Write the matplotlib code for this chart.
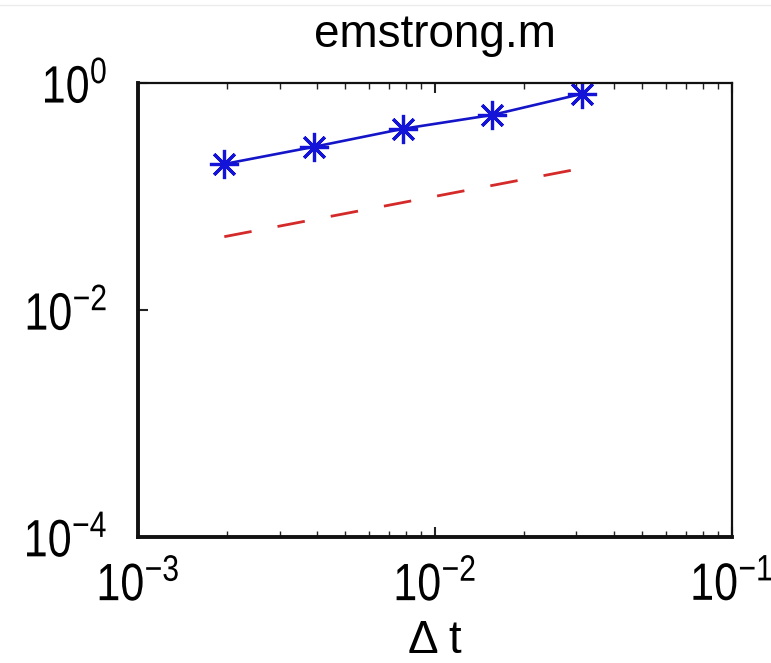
import matplotlib
matplotlib.use('Agg')
import matplotlib.pyplot as plt
from matplotlib.ticker import NullLocator, LogLocator
from matplotlib.lines import Line2D
from matplotlib.patheffects import AbstractPathEffect
from matplotlib.transforms import Affine2D
from matplotlib.path import Path

plt.rcParams['font.family'] = ['Liberation Sans', 'DejaVu Sans']
plt.rcParams['mathtext.fontset'] = 'custom'
plt.rcParams['mathtext.rm'] = 'Liberation Sans'
plt.rcParams['mathtext.it'] = 'Liberation Sans'

# step sizes dt = 2^-9 ... 2^-5 and the mean strong error at each
Dtvals = [2.0**-9, 2.0**-8, 2.0**-7, 2.0**-6, 2.0**-5]
Xerr = [0.193, 0.273, 0.394, 0.522, 0.80]
# order 1/2 reference slope
refline = [d**0.5 for d in Dtvals]


class TallText(AbstractPathEffect):
    '''stretch a text path vertically about its own middle'''

    def __init__(self, sy=1.2):
        super().__init__()
        self.sy = sy

    def draw_path(self, renderer, gc, tpath, affine, rgbFace=None):
        verts = tpath.vertices
        if tpath.codes is not None:
            verts = verts[tpath.codes != Path.CLOSEPOLY]
        pts = affine.transform(verts)
        yc = (pts[:, 1].min() + pts[:, 1].max()) / 2
        stretch = Affine2D().translate(0, -yc).scale(1, self.sy).translate(0, yc)
        renderer.draw_path(gc, tpath, affine + stretch, rgbFace)


fig = plt.figure(figsize=(7.71, 6.63), dpi=100)
ax = fig.add_axes([0.179, 0.190, 0.770, 0.685])

ax.loglog(Dtvals, Xerr, color='#1414c8', linestyle='-', linewidth=1.9,
          marker=(8, 2, 0), markersize=21, markeredgewidth=2.3,
          markeredgecolor='#1414d8')
ax.loglog(Dtvals, refline, color='#d42a2a', linestyle='--', linewidth=2.0,
          dashes=(10, 9.5))

ax.set_xlim(1e-3, 1e-1)
ax.set_ylim(1e-4, 1e0)
ax.set_xticks([1e-3, 1e-2, 1e-1])
ax.set_xticklabels([r'$10^{-3}$', r'$10^{-2}$', r'$10^{-1}$'])
ax.set_yticks([1e-4, 1e-2, 1e0])
ax.set_yticklabels([r'$10^{-4}$', r'$10^{-2}$', r'$10^{0}$'])
ax.xaxis.set_minor_locator(LogLocator(base=10, subs=range(2, 10)))
ax.xaxis.set_minor_formatter(plt.NullFormatter())
ax.yaxis.set_minor_locator(NullLocator())

ax.tick_params(axis='both', which='both', direction='in', labelsize=31,
               top=True, right=False, color='#222222')
ax.tick_params(axis='x', which='major', length=7, width=1.5, pad=20)
ax.tick_params(axis='x', which='minor', length=4, width=1.0)
ax.tick_params(axis='y', which='major', length=7, width=1.5, pad=22)

for lbl in ax.get_xticklabels() + ax.get_yticklabels():
    lbl.set_path_effects([TallText(1.22)])

for side in ['left', 'bottom']:
    ax.spines[side].set_linewidth(2.8)
for side in ['top', 'right']:
    ax.spines[side].set_linewidth(1.6)
for sp in ax.spines.values():
    sp.set_color('#111111')

ax.set_title('emstrong.m', fontsize=33, pad=26)
ax.set_xlabel('\u0394 t', fontsize=33, labelpad=10)

fig.add_artist(Line2D([0, 1], [0.992, 0.992], transform=fig.transFigure,
                      color='#ececec', linewidth=1.0))

fig.savefig('out.png', dpi=100)
